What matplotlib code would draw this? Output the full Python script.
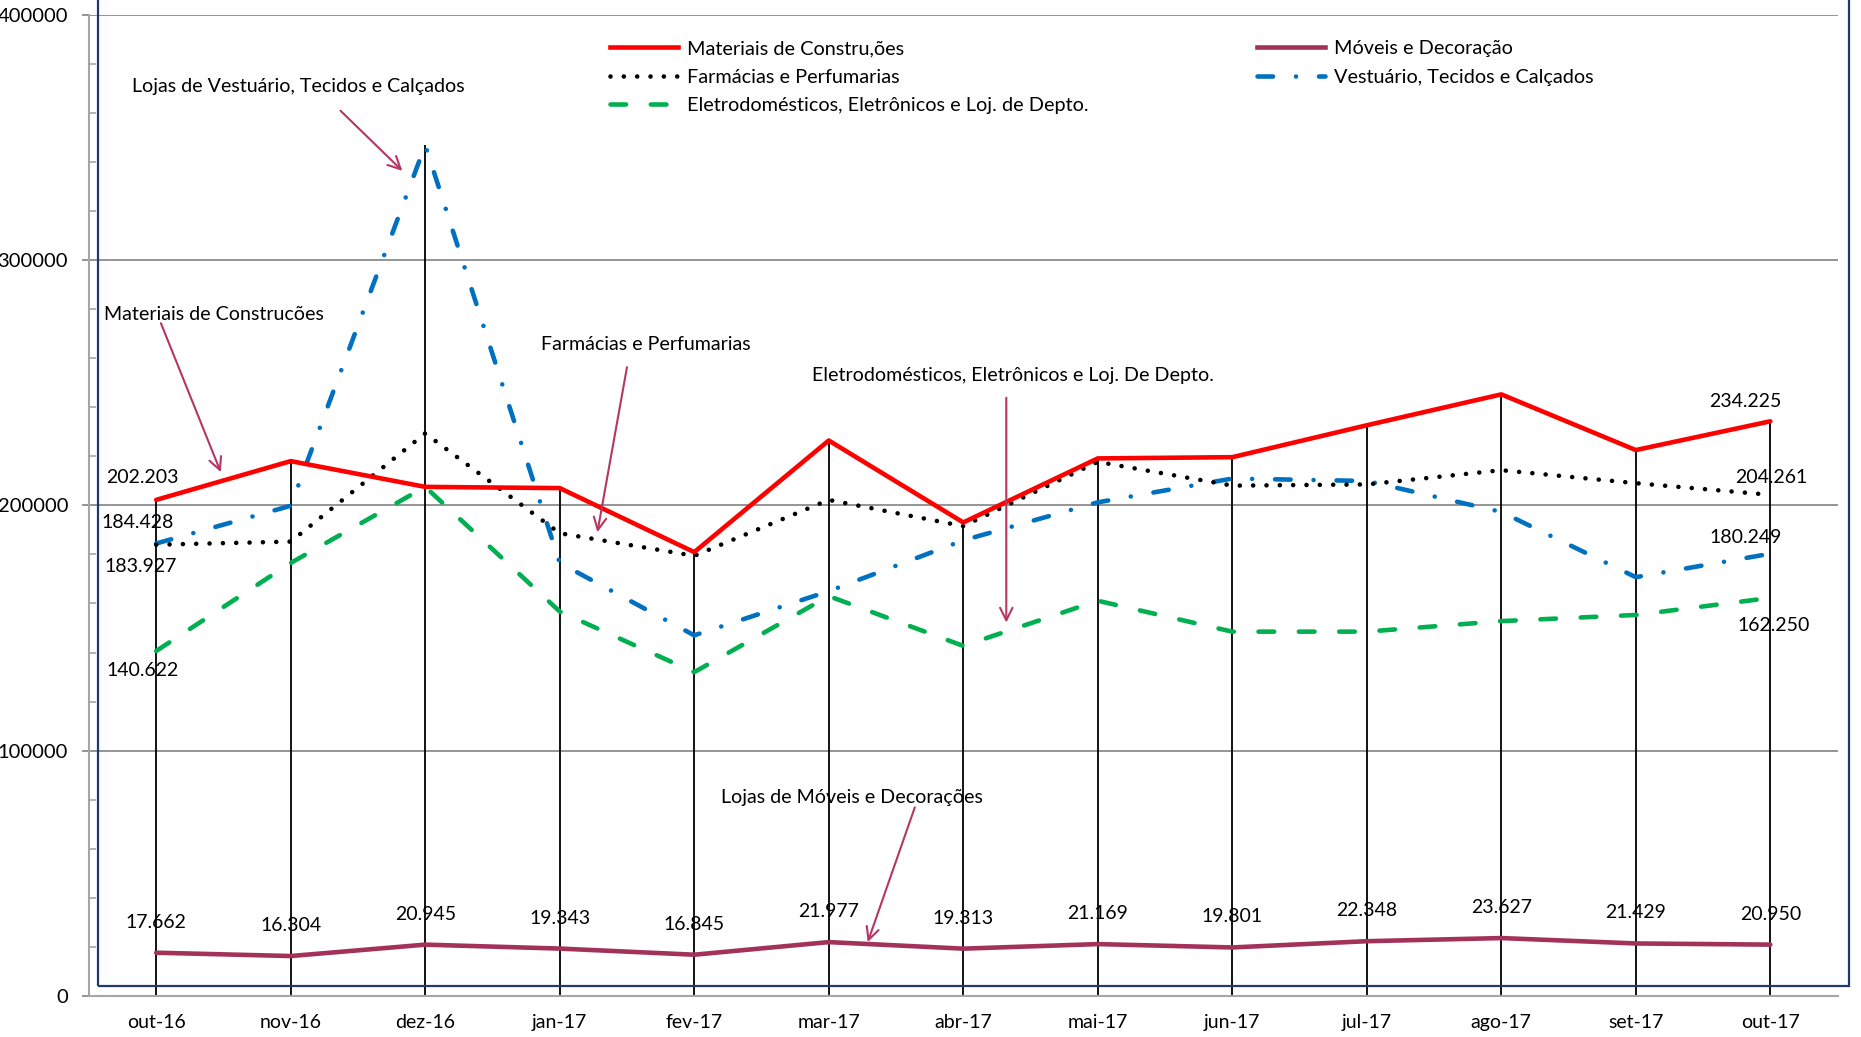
import matplotlib.pyplot as plt
from matplotlib.patches import Rectangle
from matplotlib.lines import Line2D

plt.rcParams["font.family"] = ["Lato", "DejaVu Sans"]

months = ["out-16", "nov-16", "dez-16", "jan-17", "fev-17", "mar-17", "abr-17",
          "mai-17", "jun-17", "jul-17", "ago-17", "set-17", "out-17"]

materiais = [202203, 218000, 207500, 207000, 180900, 226400, 193000,
             219100, 219600, 232600, 245200, 222500, 234225]
farmacias = [183927, 185200, 229300, 188600, 179400, 202200, 191500,
             217700, 208000, 208500, 214300, 209000, 204261]
vestuario = [184428, 199800, 346800, 176500, 147000, 165000, 185700,
             201200, 210900, 209900, 197300, 170700, 180249]
eletro = [140622, 176500, 207500, 156700, 132000, 163000, 142700,
          161100, 148500, 148500, 152800, 155300, 162250]
moveis = [17662, 16304, 20945, 19343, 16845, 21977, 19313,
          21169, 19801, 22348, 23627, 21429, 20950]

yticks = [0, 100000, 200000, 300000, 400000]

RED = "#FF0000"
GREEN = "#00B050"
BLUE = "#0070C0"
WINE = "#A3325A"
ARROW = "#B4375F"


def br(v):
    # brazilian thousands separator
    return f"{v:,}".replace(",", ".")


fig = plt.figure(figsize=(18.61, 10.37), dpi=100)
ax = fig.add_axes([0.0478, 0.0395, 0.9396, 0.9465])
x = list(range(len(months)))

# navy outer frame (plot area border of the original chart)
fig.patches.append(Rectangle((0.0529, 0.0492), 0.9407, 0.97, transform=fig.transFigure,
                             fill=False, edgecolor="#1F3870", linewidth=1.6, zorder=0))

# drop lines from the highest value down to the axis
tops = [max(vals) for vals in zip(materiais, farmacias, vestuario, eletro, moveis)]
ax.vlines(x, 0, tops, color="black", linewidth=1.3, zorder=2)

lw = 3.3
ax.plot(x, materiais, color=RED, linewidth=lw, solid_capstyle="round", zorder=6)
ax.plot(x, farmacias, color="black", linewidth=lw, linestyle=(0, (0.01, 2.9)),
        dash_capstyle="round", zorder=5)
ax.plot(x, vestuario, color=BLUE, linewidth=lw, linestyle=(0, (3.4, 5.0, 0.01, 5.0)),
        dash_capstyle="round", zorder=4)
ax.plot(x, eletro, color=GREEN, linewidth=lw, linestyle=(0, (3.4, 5.4)),
        dash_capstyle="round", zorder=3)
ax.plot(x, moveis, color=WINE, linewidth=lw, solid_capstyle="round", zorder=6)

# data labels
fs_lab = 14
for xi, v in zip(x, moveis):
    ax.annotate(br(v), (xi, v), xytext=(0, 22), textcoords="offset points",
                ha="center", va="center", fontsize=fs_lab)

end_labels = [
    (0, materiais[0], (-10, 16)),
    (0, vestuario[0], (-13, 15)),
    (0, farmacias[0], (-11, -16)),
    (0, eletro[0], (-10, -14)),
    (12, materiais[12], (-18, 14.5)),
    (12, farmacias[12], (1, 12.5)),
    (12, vestuario[12], (-18, 12)),
    (12, eletro[12], (2.5, -20)),
]
for xi, v, off in end_labels:
    ax.annotate(br(v), (xi, v), xytext=off, textcoords="offset points",
                ha="center", va="center", fontsize=fs_lab, zorder=7)

# callouts
callouts = [
    ("Lojas de Vestuário, Tecidos e Calçados", (1.06, 370500), (1.37, 360800), (1.83, 336300)),
    ("Materiais de Construcões", (0.43, 277600), (0.035, 274200), (0.48, 213500)),
    ("Farmácias e Perfumarias", (3.64, 265500), (3.50, 256300), (3.28, 189000)),
    ("Eletrodomésticos, Eletrônicos e Loj. De Depto.", (6.37, 253000), (6.32, 243800), (6.32, 152200)),
    ("Lojas de Móveis e Decorações", (5.17, 80800), (5.64, 76900), (5.29, 22000)),
]
for txt, tpos, a0, a1 in callouts:
    ax.text(tpos[0], tpos[1], txt, ha="center", va="center", fontsize=14.1, zorder=8)
    ax.annotate("", xy=a1, xytext=a0,
                arrowprops=dict(arrowstyle="->,head_length=0.9,head_width=0.45",
                                color=ARROW, linewidth=1.5, shrinkA=0, shrinkB=0),
                zorder=8)

# legend in two blocks
h = dict(linewidth=lw)
leg1 = [
    Line2D([], [], color=RED, **h),
    Line2D([], [], color="black", linestyle=(0, (0.01, 2.9)), dash_capstyle="round", **h),
    Line2D([], [], color=GREEN, linestyle=(0, (3.4, 5.4)), dash_capstyle="round", **h),
]
leg2 = [
    Line2D([], [], color=WINE, **h),
    Line2D([], [], color=BLUE, linestyle=(0, (3.4, 5.0, 0.01, 5.0)), dash_capstyle="round", **h),
]
leg_kw = dict(loc="upper left", bbox_transform=fig.transFigure, frameon=False,
              fontsize=14.3, handlelength=3.4, handletextpad=0.5, labelspacing=0.58,
              borderpad=0, borderaxespad=0)
l1 = ax.legend(leg1, ["Materiais de Constru,ões", "Farmácias e Perfumarias",
                      "Eletrodomésticos, Eletrônicos e Loj. de Depto."],
               bbox_to_anchor=(610 / 1861, 1 - 40 / 1037), **leg_kw)
ax.add_artist(l1)
ax.legend(leg2, ["Móveis e Decoração", "Vestuário, Tecidos e Calçados"],
          bbox_to_anchor=(1257 / 1861, 1 - 40 / 1037), **leg_kw)

# axes styling
ax.set_xlim(-0.5, 12.5)
ax.set_ylim(0, 400000)
ax.set_yticks(yticks)
ax.set_yticklabels([str(t) for t in yticks])
ax.set_yticks(range(0, 400001, 20000), minor=True)
ax.set_xticks(x)
ax.set_xticklabels(months)
ax.tick_params(axis="y", which="major", direction="out", length=5, width=1.3,
               color="#8C8C8C", labelsize=14.5, pad=10)
ax.tick_params(axis="y", which="minor", direction="in", length=5, width=1.2, color="#A6A6A6")
ax.tick_params(axis="x", length=0, labelsize=14, pad=13)
ax.grid(axis="y", which="major", color="#8C8C8C", linewidth=1.3, zorder=0)
ax.set_axisbelow(True)
for side in ["top", "right"]:
    ax.spines[side].set_visible(False)
ax.spines["left"].set_color("#A6A6A6")
ax.spines["left"].set_linewidth(1.5)
ax.spines["bottom"].set_color("#A6A6A6")
ax.spines["bottom"].set_linewidth(1.5)
ax.patch.set_alpha(0)

plt.savefig("out.png", dpi=100)
plt.close(fig)
